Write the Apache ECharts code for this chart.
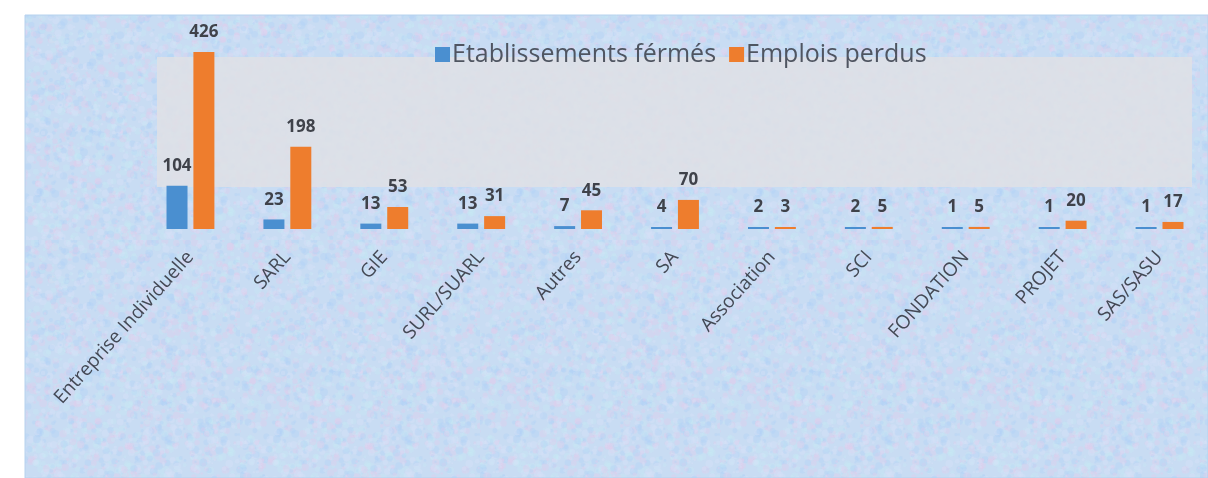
<!DOCTYPE html>
<html>
<head>
<meta charset="utf-8">
<script src="https://cdn.jsdelivr.net/npm/echarts@6/dist/echarts.min.js"></script>
<style>
  html, body { margin: 0; padding: 0; background: #fff; }
  #chart { width: 1208px; height: 478px; }
</style>
</head>
<body>
<div id="chart"></div>
<script>
// formes juridiques
const categories = ['Entreprise Individuelle', 'SARL', 'GIE', 'SURL/SUARL', 'Autres', 'SA',
  'Association', 'SCI', 'FONDATION', 'PROJET', 'SAS/SASU']
const etablissementsFermes = [104, 23, 13, 13, 7, 4, 2, 2, 1, 1, 1]
const emploisPerdus = [426, 198, 53, 31, 45, 70, 3, 5, 5, 20, 17]

// petite texture bleu/rose pour le fond (décor seulement)
function makeTexture () {
  const c = document.createElement('canvas')
  c.width = 240
  c.height = 240
  const ctx = c.getContext('2d')
  ctx.fillStyle = '#c8dcf3'
  ctx.fillRect(0, 0, 240, 240)
  let seed = 7
  const next = () => { seed = (seed * 16807) % 2147483647; return seed / 2147483647 }
  const tints = ['rgba(232,202,236,0.3)', 'rgba(176,210,246,0.35)', 'rgba(216,224,248,0.4)', 'rgba(198,234,246,0.3)']
  for (let i = 0; i < 2600; i++) {
    ctx.fillStyle = tints[i % tints.length]
    ctx.beginPath()
    ctx.arc(next() * 240, next() * 240, 1 + next() * 3, 0, Math.PI * 2)
    ctx.fill()
  }
  return c
}

const labelStyle = {
  show: true,
  position: 'top',
  distance: 11,
  color: '#3f424a',
  fontSize: 17,
  fontWeight: 'bold',
  fontFamily: 'Open Sans'
}

const chart = echarts.init(document.getElementById('chart'))
chart.setOption({
  backgroundColor: '#fff',
  animation: false,
  graphic: [
    { // fond texturé
      type: 'rect',
      z: -10,
      shape: { x: 25, y: 15, width: 1183, height: 463 },
      style: {
        fill: { image: makeTexture(), repeat: 'repeat' },
        stroke: '#b6d2ee',
        lineWidth: 1
      }
    },
    { // zone grise derrière la légende
      type: 'rect',
      z: -9,
      shape: { x: 157, y: 57, width: 1035, height: 130 },
      style: { fill: 'rgba(223,224,229,0.85)' }
    }
  ],
  legend: {
    data: ['Etablissements férmés', 'Emplois perdus'],
    left: 430,
    top: 37,
    itemWidth: 15,
    itemHeight: 15,
    itemGap: 13,
    icon: 'rect',
    textStyle: { color: '#4f5561', fontSize: 25, fontFamily: 'Open Sans', padding: [0, 0, 0, -3] }
  },
  grid: { left: 142, right: 0, top: 52, bottom: 249, containLabel: false },
  xAxis: {
    type: 'category',
    data: categories,
    axisLine: { show: false },
    axisTick: { show: false },
    axisLabel: {
      interval: 0,
      rotate: 48,
      margin: 25,
      color: '#444955',
      fontSize: 19,
      fontFamily: 'Open Sans'
    }
  },
  yAxis: {
    type: 'value',
    min: 0,
    max: 426,
    show: false,
    splitLine: { show: false }
  },
  series: [
    {
      name: 'Etablissements férmés',
      type: 'bar',
      data: etablissementsFermes,
      barWidth: 21,
      barGap: '28%',
      barMinHeight: 2,
      itemStyle: { color: '#4a8fd0' },
      label: labelStyle
    },
    {
      name: 'Emplois perdus',
      type: 'bar',
      data: emploisPerdus,
      barWidth: 21,
      barMinHeight: 2,
      itemStyle: { color: '#ee7d2d' },
      label: labelStyle
    }
  ]
})
</script>
</body>
</html>
